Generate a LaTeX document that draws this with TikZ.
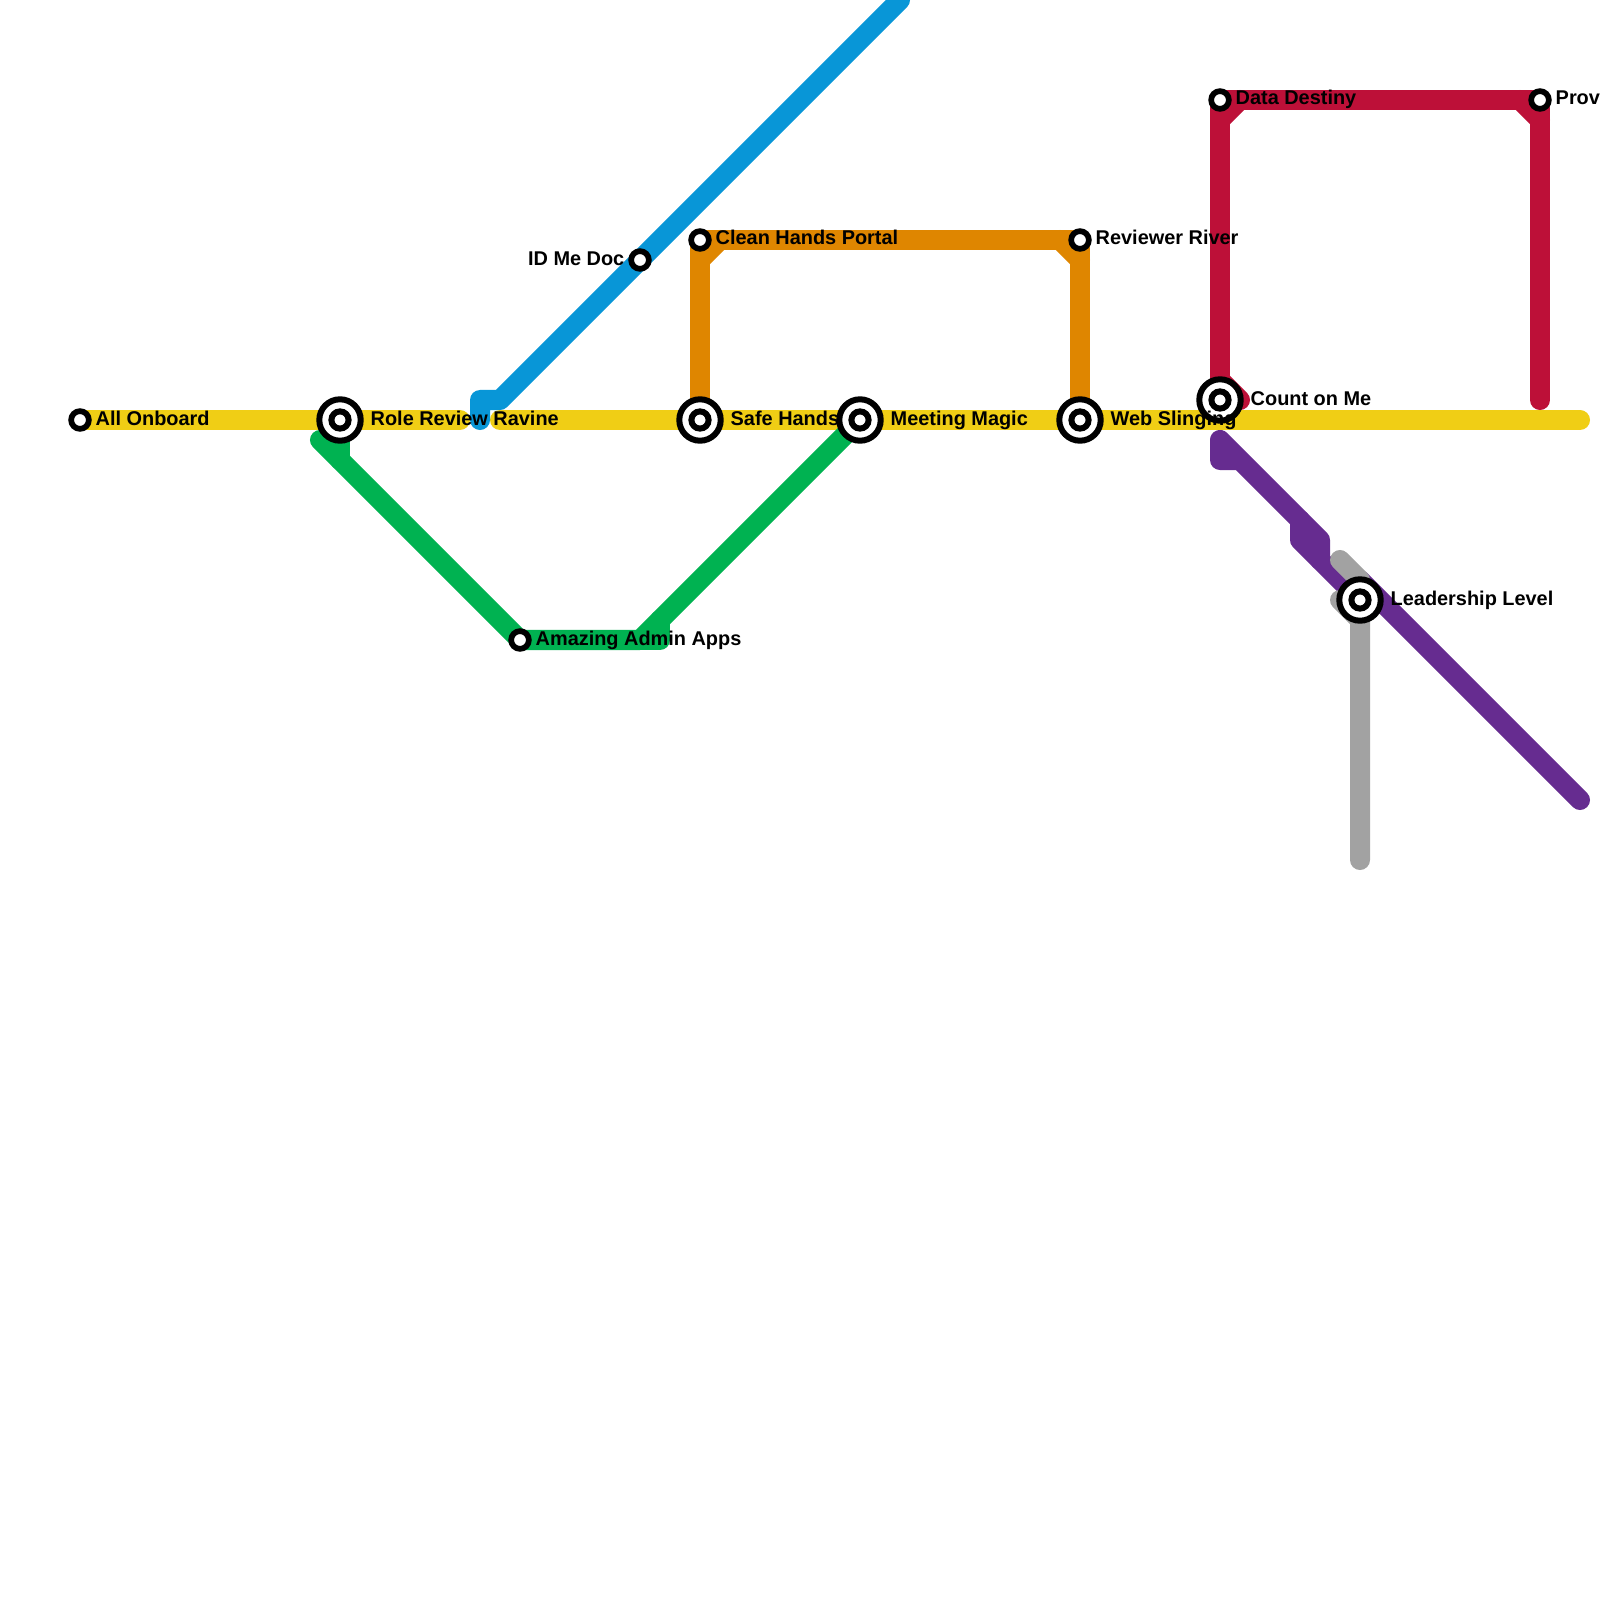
\documentclass[tikz,border=0pt]{standalone}
\usepackage{fontspec}
\setmainfont{Liberation Sans}
\usetikzlibrary{positioning,calc}

\definecolor{lineyellow}{HTML}{F0CE15}
\definecolor{lineblue}{HTML}{0896D7}
\definecolor{linegreen}{HTML}{00B251}
\definecolor{lineorange}{HTML}{DF8600}
\definecolor{linered}{HTML}{BD1038}
\definecolor{linepurple}{HTML}{662C90}
\definecolor{linegray}{HTML}{A2A2A2}

\tikzset{
  metro/.style={line width=0.2cm,line cap=round,line join=round},
  ringbig/.style={circle,draw=black,fill=white,line width=0.06cm,minimum size=0.414cm,inner sep=0pt},
  ringmid/.style={circle,draw=black,fill=white,line width=0.06cm,minimum size=0.172cm,inner sep=0pt},
  ringsmall/.style={circle,draw=black,fill=white,line width=0.057cm,minimum size=0.177cm,inner sep=0pt},
  stoplabel/.style={inner sep=0pt,font=\fontsize{5.66pt}{7pt}\selectfont\bfseries}
}

\begin{document}
\begin{tikzpicture}[x=0.01cm,y=-0.01cm]
  \clip (0,0) rectangle (1600,1600);
  % stops
  \coordinate (onboard) at (80,420);
  \coordinate (role) at (340,420);
  \coordinate (safe) at (700,420);
  \coordinate (meeting) at (860,420);
  \coordinate (web) at (1080,420);
  \coordinate (count) at (1220,400);
  \coordinate (leader) at (1360,600);
  \coordinate (idme) at (640,260);
  \coordinate (clean) at (700,240);
  \coordinate (river) at (1080,240);
  \coordinate (destiny) at (1220,100);
  \coordinate (prov) at (1540,100);
  \coordinate (admin) at (520,640);

  % yellow
  \draw[metro,lineyellow] (onboard) -- (role) -- (460,420);
  \draw[metro,lineyellow] (500,420) -- (safe) -- (meeting) -- (web) -- (1580,420);
  % blue
  \draw[metro,lineblue] (480,420) -- (480,400) -- (500,400) -- (idme) -- (900,0);
  % green
  \draw[metro,linegreen] (role) -- (340,460);
  \draw[metro,linegreen] (320,440) -- (admin) -- (640,640) -- (meeting);
  \draw[metro,linegreen] (640,640) -- (660,640) -- (660,620);
  % orange
  \draw[metro,lineorange] (safe) -- (clean) -- (river) -- (web);
  \draw[metro,lineorange] (700,260) -- (720,240);
  \draw[metro,lineorange] (1060,240) -- (1080,260);
  % red
  \draw[metro,linered] (count) -- (destiny) -- (prov) -- (1540,400);
  \draw[metro,linered] (1220,120) -- (1240,100);
  \draw[metro,linered] (1520,100) -- (1540,120);
  \draw[metro,linered] (1220,380) -- (1240,400);
  % purple
  \draw[metro,linepurple] (1240,460) -- (1220,460) -- (1220,440) -- (1320,540) -- (1320,560);
  \draw[metro,linepurple] (1300,520) -- (1300,540) -- (leader);
  \draw[metro,linepurple] (1360,580) -- (1580,800);
  % gray
  \draw[metro,linegray] (1340,560) -- (1360,580) -- (1360,860);
  \draw[metro,linegray] (1340,600) -- (1360,620);

  \foreach \st in {role,safe,meeting,web,count,leader}{
    \node[ringbig] (\st big) at (\st) {};
    \node[ringmid] (\st dot) at (\st) {};
  }
  \foreach \st in {onboard,idme,clean,river,destiny,prov,admin}{
    \node[ringsmall] (\st dot) at (\st) {};
  }

  \foreach \st/\lab in {onboard/All Onboard,clean/Clean Hands Portal,river/Reviewer River,destiny/Data Destiny,prov/Prov,admin/Amazing Admin Apps}{
    \node[stoplabel,anchor=base west] (\st lab) at ($(\st)+(15,5)$) {\lab};
  }
  \foreach \st/\lab in {role/Role Review Ravine,safe/Safe Hands,meeting/Meeting Magic,web/Web Slinging,count/Count on Me,leader/Leadership Level}{
    \node[stoplabel,anchor=base west] (\st lab) at ($(\st)+(30,5)$) {\lab};
  }
  \node[stoplabel,anchor=base east] (idmelab) at ($(idme)+(-15,5)$) {ID Me Doc};
\end{tikzpicture}
\end{document}
